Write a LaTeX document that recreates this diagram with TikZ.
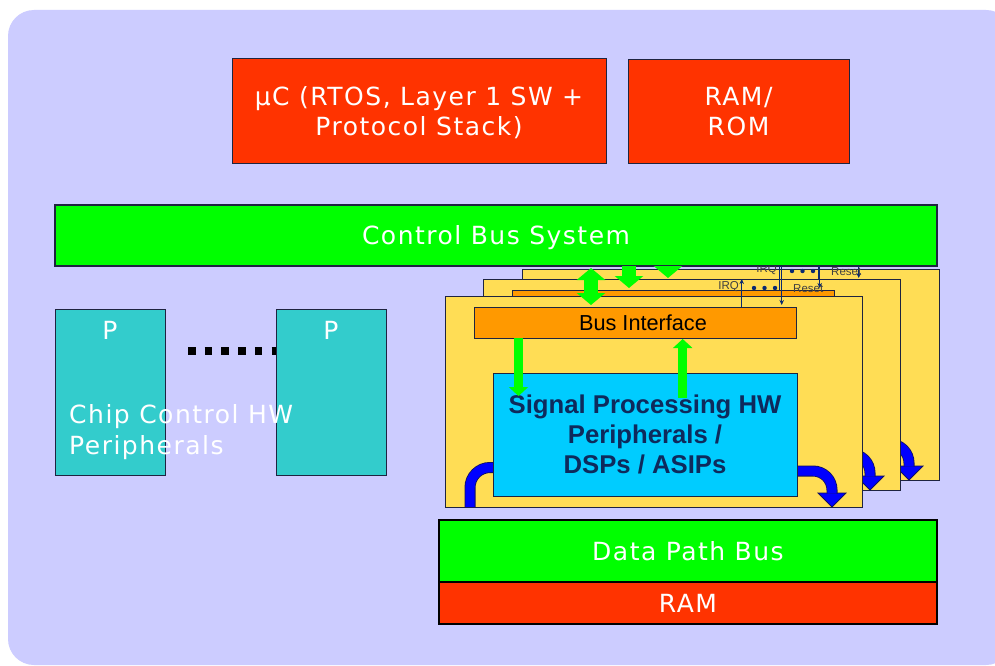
\documentclass[tikz,border=0pt]{standalone}
\usepackage{fontspec}
\usetikzlibrary{arrows.meta,calc}
\newfontfamily\vfont[LetterSpace=6]{DejaVu Sans}
\newfontfamily\afont{Liberation Sans}

\definecolor{bgviolet}{HTML}{CCCCFF}
\definecolor{redbox}{HTML}{FF3300}
\definecolor{greenbus}{HTML}{00FF00}
\definecolor{tealbox}{HTML}{33CCCC}
\definecolor{yellowbox}{HTML}{FFDD55}
\definecolor{orangebox}{HTML}{FF9900}
\definecolor{cyanbox}{HTML}{00CCFF}
\definecolor{edgecol}{HTML}{1E2440}
\definecolor{sigcol}{HTML}{0A2A70}
\definecolor{sptext}{HTML}{0E2A5C}
\definecolor{bluearrow}{HTML}{0000FF}
\definecolor{blueedge}{HTML}{101060}

\tikzset{
  blk/.style={draw=edgecol, line width=1pt, inner sep=0pt, outer sep=0pt, anchor=north west},
  wtext/.style={text=white, font=\vfont\fontsize{25}{30}\selectfont, align=center, text depth=0pt},
  bitext/.style={font=\afont\fontsize{21.7}{26}\selectfont, text=black},
  sptxt/.style={font=\afont\bfseries\fontsize{25.7}{30}\selectfont, text=sptext, align=center},
  sigtext/.style={font=\afont\fontsize{11.5}{13}\selectfont, text=black!75, inner sep=0pt},
  sig/.style={draw=sigcol, line width=1.3pt},
  gdouble/.style={draw=greenbus, line width=14pt,
    {Triangle[width=28pt,length=12pt]}-{Triangle[width=28pt,length=12pt]}},
  ginner/.style={draw=greenbus, line width=9pt, -{Triangle[width=19pt,length=9pt]}},
  bshaft/.style={draw=blueedge, line width=11pt, postaction={draw=bluearrow, line width=9.4pt}},
  bhead/.style={fill=bluearrow, draw=blueedge, line width=0.8pt, line join=miter},
}

% one signal-processing unit: frame, bus interface, core and its links
\newcommand\dsplayer[1]{%
  \node[blk, fill=yellowbox, minimum width=417pt, minimum height=211pt] (#1frame) at (445,296) {};
  \node[blk, fill=orangebox, minimum width=322pt, minimum height=31pt, bitext] (#1bi) at (474,307) {\hspace*{16pt}Bus Interface};
  \draw[gdouble] ($(#1bi.north west)+(117,-2)$) -- ++(0,-37);
  \draw[sig, -{Stealth[length=5pt,width=4.5pt]}] ($(#1bi.north west)+(267.7,0)$) -- ++(0,-28);
  \draw[sig, {Stealth[length=5pt,width=4.5pt]}-] ($(#1bi.north west)+(307.7,-2)$) -- ++(0,-39);
  \node[sigtext, anchor=east] (#1irq) at ($(#1bi.north west)+(265,-20)$) {IRQ};
  \node[sigtext, anchor=west] (#1rst) at ($(#1bi.north west)+(319,-18)$) {Reset};
  \foreach \xx in {280,290.5,301} \fill[sigcol] ($(#1bi.north west)+(\xx,-19)$) circle[radius=2.2pt];
  % data flow in and out of the core
  \draw[bshaft] ($(#1frame.south west)+(25,0)$) -- ++(0,-19.5)
     .. controls ++(0,-11) and ++(-11,0) .. ++(20,-20) -- ++(10,0);
  \filldraw[bhead] (818,493) -- (846,493) -- (832,507) -- cycle;
  \draw[bshaft] (790,471) -- (813,471) .. controls (823.5,471) and (832,479.5) .. (832,490) -- (832,493.5);
  \node[blk, fill=cyanbox, minimum width=304pt, minimum height=123pt, sptxt] (#1sp) at (493,373)
     {Signal Processing HW\\Peripherals /\\DSPs / ASIPs};
  \draw[ginner] ($(#1bi.south west)+(44.5,0)$) -- ++(0,58);
  \draw[ginner] ($(#1bi.south west)+(208.7,60)$) -- ++(0,-59);
}

\begin{document}
\begin{tikzpicture}[x=1pt, y=-1pt]
\useasboundingbox (0,0) rectangle (995,666);
\fill[white] (0,0) rectangle (995,666);
\fill[bgviolet, rounded corners=26pt] (8,10) rectangle (1012,665);

% processor and memory
\node[blk, fill=redbox, minimum width=374pt, minimum height=104pt, wtext] (uc) at (232,59)
  {µC (RTOS, Layer 1 SW +\\Protocol Stack)};
\node[blk, fill=redbox, minimum width=221pt, minimum height=103pt, wtext] (ramrom) at (628,60)
  {RAM/\\ROM};

% control bus
\node[blk, fill=greenbus, line width=1.4pt, minimum width=882pt, minimum height=61pt, wtext] (cbus) at (55,205)
  {Control Bus System};

% chip control peripherals
\node[blk, fill=tealbox, minimum width=110pt, minimum height=166pt] (pL) at (55,309) {};
\coordinate (dotstart) at (188,351);
\draw[line width=8.3pt, dash pattern=on 7.5pt off 9.2pt] (dotstart) -- (dotstart -| 280,0);
\node[blk, fill=tealbox, minimum width=110pt, minimum height=166pt] (pR) at (276,309) {};
\node[wtext] (pLlabel) at ($(pL.north)+(0,21)$) {P};
\node[wtext] (pRlabel) at ($(pR.north)+(0,21)$) {P};
\node[wtext, font=\vfont\fontsize{25}{31}\selectfont, align=left, anchor=base west, inner sep=0pt] (cclabel) at (69,454)
  {Chip Control HW\\Peripherals};

% stacked signal processing units
\begin{scope}
  \clip (0,266.5) rectangle (995,666);
  \begin{scope}[shift={(77,-27)}] \dsplayer{back} \end{scope}
  \begin{scope}[shift={(38,-17)}] \dsplayer{mid} \end{scope}
  \dsplayer{front}
\end{scope}

% data path
\node[blk, draw=black, line width=1.5pt, fill=greenbus, minimum width=498pt, minimum height=62pt, wtext] (dpbus) at (439,520)
  {Data Path Bus};
\node[blk, draw=black, line width=1.5pt, fill=redbox, minimum width=498pt, minimum height=42pt, wtext] (ram) at (439,582)
  {RAM};
\end{tikzpicture}
\end{document}
